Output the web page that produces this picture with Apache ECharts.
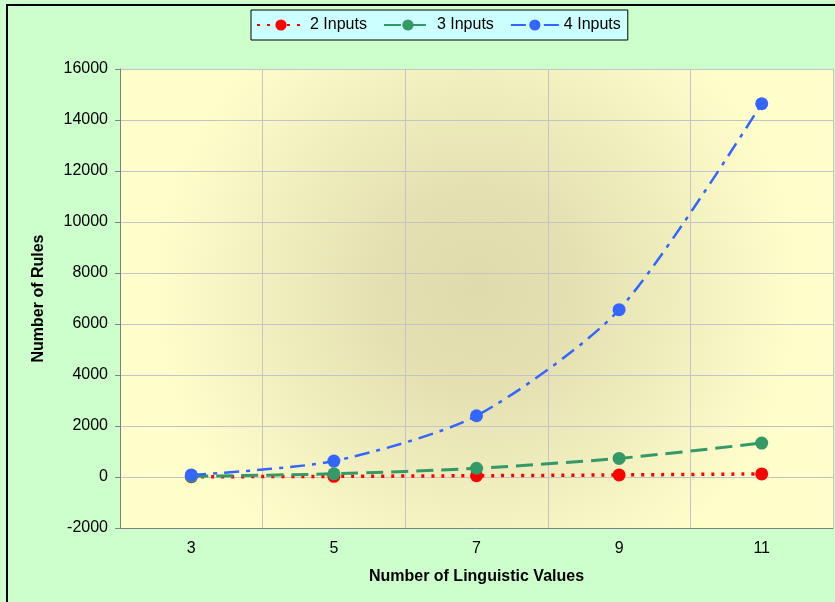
<!DOCTYPE html>
<html>
<head>
<meta charset="utf-8">
<script src="https://cdn.jsdelivr.net/npm/echarts@6/dist/echarts.min.js"></script>
<style>
html,body{margin:0;padding:0;background:#ccffcc;}
#chart{width:835px;height:602px;}
</style>
</head>
<body>
<div id="chart"></div>
<script>
const categories = ['3', '5', '7', '9', '11'];
const inputs2 = [9, 25, 49, 81, 121];
const inputs3 = [27, 125, 343, 729, 1331];
const inputs4 = [81, 625, 2401, 6561, 14641];
const seriesNames = ['2 Inputs', '3 Inputs', '4 Inputs'];
const yMin = -2000, yMax = 16000, yStep = 2000;

const font = '"Liberation Sans", Arial, sans-serif';
const chart = echarts.init(document.getElementById('chart'));

function mkSeries(name, data, color, dash, width) {
  return {
    name: name,
    type: 'line',
    data: data,
    smooth: 0.25,
    symbol: 'circle',
    symbolSize: 13,
    itemStyle: { color: color },
    lineStyle: { color: color, width: width, type: dash, cap: 'butt' },
    emphasis: { disabled: true },
    animation: false
  };
}

chart.setOption({
  backgroundColor: '#ccffcc',
  animation: false,
  graphic: [{
    type: 'rect',
    shape: { x: 7, y: 5, width: 900, height: 700 },
    style: { fill: 'none', stroke: '#000', lineWidth: 2 },
    silent: true,
    z: 100
  }],
  legend: {
    top: 10,
    left: 251,
    data: seriesNames,
    backgroundColor: '#ccffff',
    borderColor: '#000',
    borderWidth: 1,
    padding: [7, 7, 7, 5],
    itemWidth: 48,
    itemHeight: 14,
    itemGap: 16,
    textStyle: { fontFamily: font, fontSize: 16, color: '#000' }
  },
  grid: {
    left: 120, right: 2, top: 69, bottom: 74,
    show: true,
    borderWidth: 0,
    backgroundColor: {
      type: 'radial', x: 0.5, y: 0.48, r: 0.72,
      colorStops: [
        { offset: 0, color: '#dfdbad' },
        { offset: 0.3, color: '#e4e0b2' },
        { offset: 1, color: '#ffffcc' }
      ]
    }
  },
  xAxis: {
    type: 'category',
    data: categories,
    boundaryGap: true,
    name: 'Number of Linguistic Values',
    nameLocation: 'middle',
    nameGap: 41,
    nameTextStyle: { fontFamily: font, fontSize: 16, fontWeight: 'bold', color: '#000' },
    axisLine: { onZero: false, lineStyle: { color: '#808080', width: 1 } },
    axisTick: { show: false },
    axisLabel: { fontFamily: font, fontSize: 16, color: '#000', margin: 13 },
    splitLine: { show: true, lineStyle: { color: '#c4c4c4', width: 1 } }
  },
  yAxis: {
    type: 'value',
    min: yMin, max: yMax, interval: yStep,
    name: 'Number of Rules',
    nameLocation: 'middle',
    nameGap: 73,
    nameTextStyle: { fontFamily: font, fontSize: 16, fontWeight: 'bold', color: '#000' },
    axisLine: { show: true, lineStyle: { color: '#808080', width: 1 } },
    axisTick: { show: true, length: 5, lineStyle: { color: '#808080' } },
    axisLabel: { fontFamily: font, fontSize: 16, color: '#000', margin: 12, formatter: v => String(v) },
    splitLine: { show: true, lineStyle: { color: '#c4c4c4', width: 1 } }
  },
  series: [
    mkSeries(seriesNames[0], inputs2, '#ff0000', [3, 7], 3.5),
    mkSeries(seriesNames[1], inputs3, '#339966', [17, 8], 3),
    mkSeries(seriesNames[2], inputs4, '#3366ff', [15, 7, 4, 7], 2.5)
  ]
});
</script>
</body>
</html>
